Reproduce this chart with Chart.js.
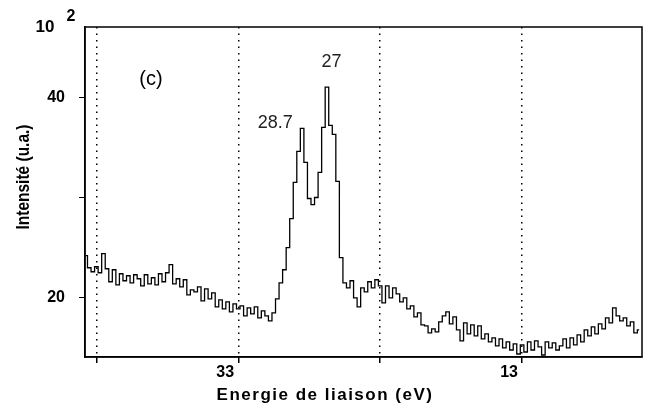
<!DOCTYPE html>
<html>
<head>
<meta charset="utf-8">
<script src="https://cdn.jsdelivr.net/npm/chart.js@4.4.1/dist/chart.umd.min.js"></script>
<style>
  body { margin: 0; background: #fff; }
  #wrap { width: 655px; height: 410px; }
</style>
</head>
<body>
<div id="wrap"><canvas id="xpsChart"></canvas></div>
<script>
// binding energy (eV), every 0.25 eV
const energies = [
  43.75, 43.5, 43.25, 43.0, 42.75, 42.5, 42.25, 42.0,
  41.75, 41.5, 41.25, 41.0, 40.75, 40.5, 40.25, 40.0,
  39.75, 39.5, 39.25, 39.0, 38.75, 38.5, 38.25, 38.0,
  37.75, 37.5, 37.25, 37.0, 36.75, 36.5, 36.25, 36.0,
  35.75, 35.5, 35.25, 35.0, 34.75, 34.5, 34.25, 34.0,
  33.75, 33.5, 33.25, 33.0, 32.75, 32.5, 32.25, 32.0,
  31.75, 31.5, 31.25, 31.0, 30.75, 30.5, 30.25, 30.0,
  29.75, 29.5, 29.25, 29.0, 28.75, 28.5, 28.25, 28.0,
  27.75, 27.5, 27.25, 27.0, 26.75, 26.5, 26.25, 26.0,
  25.75, 25.5, 25.25, 25.0, 24.75, 24.5, 24.25, 24.0,
  23.75, 23.5, 23.25, 23.0, 22.75, 22.5, 22.25, 22.0,
  21.75, 21.5, 21.25, 21.0, 20.75, 20.5, 20.25, 20.0,
  19.75, 19.5, 19.25, 19.0, 18.75, 18.5, 18.25, 18.0,
  17.75, 17.5, 17.25, 17.0, 16.75, 16.5, 16.25, 16.0,
  15.75, 15.5, 15.25, 15.0, 14.75, 14.5, 14.25, 14.0,
  13.75, 13.5, 13.25, 13.0, 12.75, 12.5, 12.25, 12.0,
  11.75, 11.5, 11.25, 11.0, 10.75, 10.5, 10.25, 10.0,
  9.75, 9.5, 9.25, 9.0, 8.75, 8.5, 8.25, 8.0,
  7.75, 7.5, 7.25, 7.0, 6.75, 6.5, 6.25, 6.0,
  5.75, 5.5, 5.25, 5.0, 4.75
];

// intensity, in units of 10^2 (u.a.)
const intensity = [
  24.2, 23.0, 22.6, 23.1, 22.5, 24.4, 22.9, 21.6,
  22.8, 21.3, 22.4, 21.7, 22.2, 21.5, 22.3, 21.9,
  21.2, 22.3, 21.4, 22.0, 21.3, 22.4, 21.6, 22.5,
  23.3, 21.4, 21.9, 21.1, 21.8, 20.3, 20.8, 20.6,
  21.1, 19.7, 20.9, 19.9, 20.5, 19.1, 19.8, 18.9,
  19.6, 18.6, 19.4, 18.9, 19.2, 18.2, 19.0, 18.4,
  19.1, 18.0, 18.7, 18.2, 17.7, 18.5, 19.9, 21.5,
  22.8, 25.0, 27.9, 31.5, 34.6, 36.9, 33.5, 29.9,
  29.3, 30.0, 32.5, 37.0, 41.0, 37.2, 36.3, 31.6,
  24.0, 21.5, 21.0, 21.7, 20.0, 19.1, 21.0, 20.6,
  21.6, 21.0, 21.8, 21.2, 19.5, 21.2, 20.0, 21.0,
  20.4, 19.6, 20.0, 18.9, 19.2, 18.1, 18.5, 17.3,
  17.2, 16.5, 16.9, 16.6, 17.6, 18.2, 18.6, 17.4,
  18.1, 16.8, 15.7, 17.5, 16.4, 17.3, 16.2, 17.2,
  15.9, 16.4, 15.6, 16.0, 15.2, 15.9, 15.0, 15.6,
  14.8, 15.4, 14.4, 15.3, 14.6, 15.6, 14.8, 15.7,
  15.1, 14.3, 15.6, 15.0, 15.5, 14.8, 15.2, 15.9,
  15.0, 16.0, 15.3, 16.3, 15.6, 16.8, 16.2, 17.1,
  16.4, 17.4, 16.9, 18.0, 17.5, 19.0, 18.2, 17.7,
  18.0, 17.2, 17.6, 16.5, 16.8
];

const xTicks = [43, 33, 23, 13];
const xLabels = ["", "33", "", "13"];
const yTicks = [20, 30, 40];
const yLabels = ["20", "", "40"];

const peakLabels = [
  { text: "28.7", energy: 28.7, value: 36.9, dx: -24, dy: -5 },
  { text: "27", energy: 27, value: 41.0, dx: 8, dy: -25 }
];

const points = energies.map((e, i) => ({ x: e, y: intensity[i] }));

const annotate = {
  id: "annotate",
  afterDraw(chart) {
    const c = chart.ctx;
    const a = chart.chartArea;
    const xs = chart.scales.x;
    const ys = chart.scales.y;

    c.save();
    // box
    c.strokeStyle = "#000";
    c.lineWidth = 1.5;
    c.strokeRect(a.left, a.top, a.right - a.left, a.bottom - a.top);

    c.fillStyle = "#000";
    c.textAlign = "center";
    c.textBaseline = "middle";

    c.font = "20px 'Liberation Sans'";
    c.fillText("(c)", 151, 79);

    c.fillStyle = "#222";
    c.font = "18px 'Liberation Sans'";
    peakLabels.forEach(p => {
      c.fillText(p.text,
        xs.getPixelForValue(p.energy) + p.dx,
        ys.getPixelForValue(p.value) + p.dy);
    });

    c.fillStyle = "#000";
    c.font = "bold 17px 'Liberation Sans'";
    c.fillText("10", 45, 27);
    c.font = "bold 16px 'Liberation Sans'";
    c.fillText("2", 71, 17);

    c.font = "bold 17px 'Liberation Sans'";
    c.letterSpacing = "1.5px";
    c.fillText("Energie de liaison (eV)", 325, 395);
    c.letterSpacing = "0px";

    // condensed rotated y title
    c.translate(24, 177);
    c.rotate(-Math.PI / 2);
    c.scale(0.86, 1);
    c.font = "bold 18px 'Liberation Sans'";
    c.fillText("Intensité (u.a.)", 0, 0);
    c.restore();
  }
};

new Chart(document.getElementById("xpsChart"), {
  type: "line",
  data: {
    datasets: [{
      data: points,
      borderColor: "#000",
      borderWidth: 1.3,
      pointRadius: 0,
      stepped: "middle",
      fill: false
    }]
  },
  options: {
    responsive: true,
    maintainAspectRatio: false,
    animation: false,
    layout: {
      padding: { top: 27, right: 13, left: 0, bottom: 0 }
    },
    plugins: {
      legend: { display: false },
      tooltip: { enabled: false }
    },
    scales: {
      x: {
        type: "linear",
        reverse: true,
        min: 4.55,
        max: 43.8,
        afterFit: s => { s.height = 53; },
        afterBuildTicks: s => { s.ticks = xTicks.map(v => ({ value: v })); },
        ticks: {
          color: "#000",
          font: { family: "Liberation Sans", size: 16, weight: "bold" },
          padding: 0,
          labelOffset: -13,
          maxRotation: 0,
          autoSkip: false,
          callback: v => xLabels[xTicks.indexOf(v)]
        },
        grid: {
          color: "#000",
          lineWidth: 1.5,
          tickColor: "#000",
          tickLength: 6,
          tickBorderDash: []
        },
        border: { display: true, color: "#000", width: 1.5, dash: [1.5, 5] }
      },
      y: {
        type: "linear",
        min: 14.1,
        max: 47,
        afterFit: s => { s.width = 85; },
        afterBuildTicks: s => { s.ticks = yTicks.map(v => ({ value: v })); },
        ticks: {
          color: "#000",
          font: { family: "Liberation Sans", size: 16, weight: "bold" },
          padding: 14,
          callback: v => yLabels[yTicks.indexOf(v)]
        },
        grid: {
          drawOnChartArea: false,
          tickColor: "#000",
          tickLength: 6
        },
        border: { display: true, color: "#000", width: 1.5 }
      }
    }
  },
  plugins: [annotate]
});
</script>
</body>
</html>
